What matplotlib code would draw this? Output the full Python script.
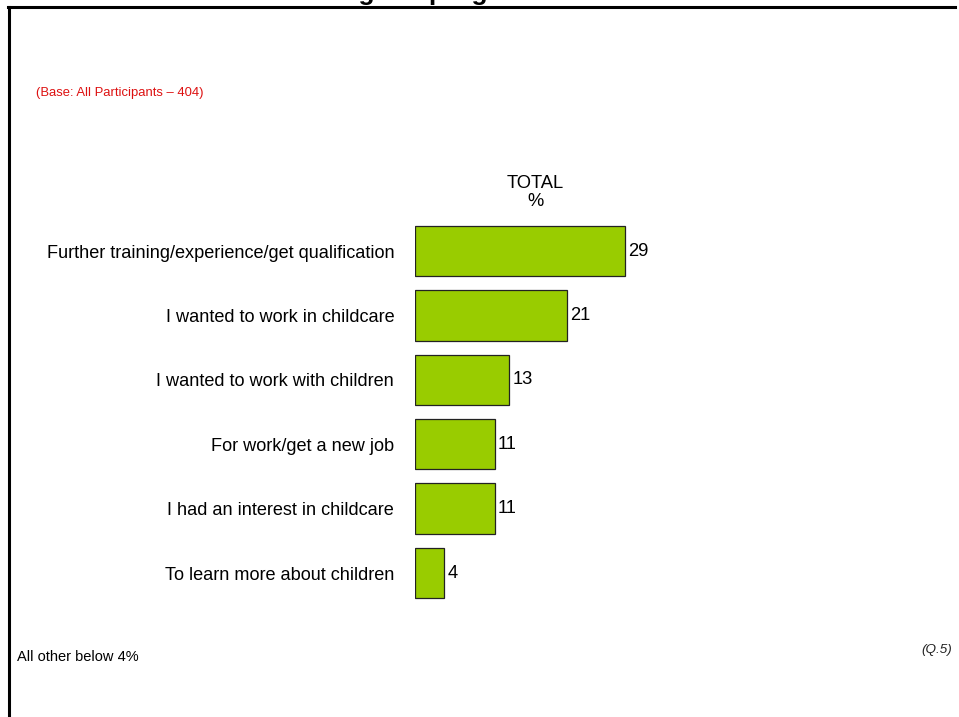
import matplotlib
matplotlib.use("Agg")
import matplotlib.pyplot as plt
from matplotlib.lines import Line2D

plt.rcParams['font.family'] = ['Liberation Sans', 'DejaVu Sans']

categories = [
    "Further training/experience/get qualification",
    "I wanted to work in childcare",
    "I wanted to work with children",
    "For work/get a new job",
    "I had an interest in childcare",
    "To learn more about children",
]
values = [29, 21, 13, 11, 11, 4]

title = "Main reasons for attending the programme"
base_note = "(Base: All Participants \u2013 404)"
column_header = ["TOTAL", "%"]
footnote = "All other below 4%"
question_ref = "(Q.5)"

W, H = 959, 717
fig = plt.figure(figsize=(W / 100, H / 100), dpi=100)

# axes placement (pixels from top-left)
left_px = 415
px_per_unit = 7.24
xmax = 60
top_px = 218.8
bottom_px = 605.2
ax = fig.add_axes([left_px / W, 1 - bottom_px / H, xmax * px_per_unit / W, (bottom_px - top_px) / H])

y = list(range(len(categories)))
ax.barh(y, values, height=0.78, color="#99CC00", edgecolor="#222222", linewidth=0.9)
for yi, v in zip(y, values):
    ax.annotate(f"{v}", xy=(v, yi), xytext=(2.5, 0), textcoords="offset points",
                ha="left", va="center", fontsize=13.2, color="black")

ax.set_xlim(0, xmax)
ax.set_ylim(len(categories) - 0.5, -0.5)
ax.set_yticks(y)
ax.set_yticklabels(categories, fontsize=13.1)
ax.tick_params(axis="y", length=0, pad=15)
ax.set_xticks([])
for s in ax.spines.values():
    s.set_visible(False)

# column header
fig.text(535 / W, 1 - 184 / H, column_header[0], ha="center", va="center", fontsize=13.2)
fig.text(535 / W, 1 - 202 / H, column_header[1], ha="center", va="center", fontsize=13.2)

# frame lines
fig.add_artist(Line2D([8 / W, 955 / W], [1 - 7 / H, 1 - 7 / H], color="black", linewidth=2.2))
fig.add_artist(Line2D([9 / W, 9 / W], [0, 1 - 7 / H], color="black", linewidth=2.2))

# title, cropped at the top edge as in the source slide
fig.text(37 / W, 1 + 0.5 / H, title, ha="left", va="baseline", fontsize=19, fontweight="bold")

fig.text(36 / W, 1 - 93 / H, base_note, ha="left", va="center", fontsize=9.4, color="#DD1111")
fig.text(17 / W, 1 - 657 / H, footnote, ha="left", va="center", fontsize=10.5, color="black")
fig.text(952 / W, 1 - 650 / H, question_ref, ha="right", va="center", fontsize=9.7, style="italic", color="#222222")

fig.savefig("out.png", dpi=100)
